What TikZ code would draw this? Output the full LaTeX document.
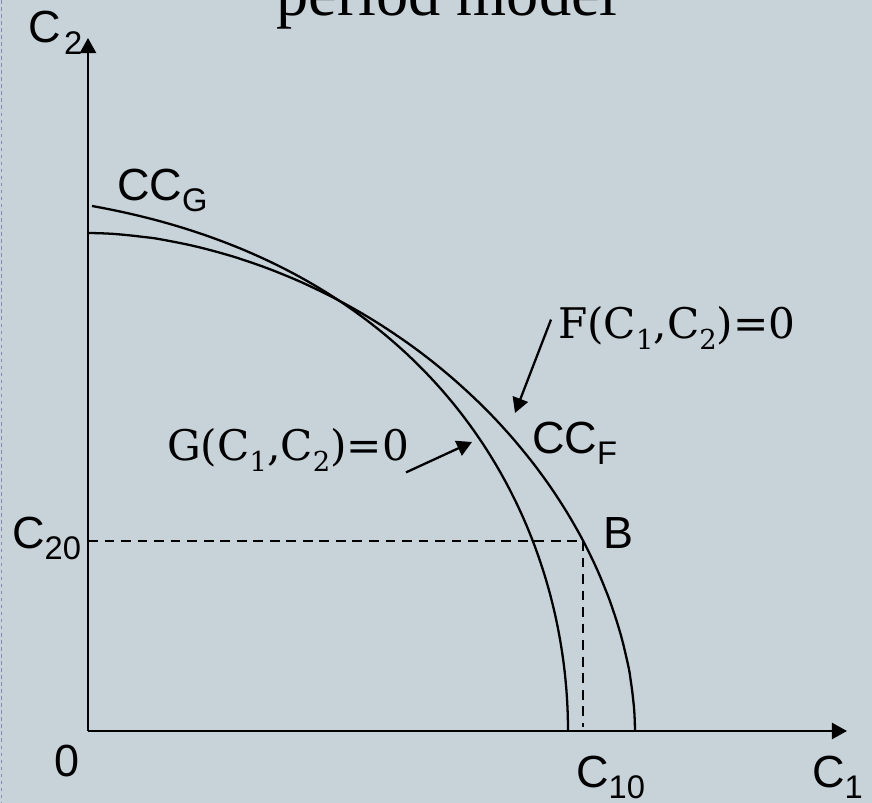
\documentclass[tikz,border=0pt]{standalone}
\usepackage{fontspec}
\setmainfont{Liberation Serif}
\newfontfamily\arialfont{Liberation Sans}
\newfontfamily\eqfont{DejaVu Serif}
\usetikzlibrary{arrows.meta}
\definecolor{slidebg}{RGB}{199,210,217}
\definecolor{edgeblue}{RGB}{130,142,180}
% lowered index for the axis labels and for the equations
\newcommand{\lo}[1]{\raisebox{-3.4pt}{\fontsize{9.3}{10}\selectfont #1}}
\newcommand{\elo}[1]{\raisebox{-3.2pt}{\fontsize{7.8}{9}\selectfont #1}}

\begin{document}
\begin{tikzpicture}[x=0.01cm, y=-0.01cm, line width=0.65pt,
  lbl/.style={inner sep=0pt, anchor=base west, font=\arialfont\fontsize{12.8}{14}\selectfont},
  eqn/.style={inner sep=0pt, anchor=base west, font=\eqfont\fontsize{12}{14}\selectfont},
  pointer/.style={-{Triangle[length=0.15cm, width=0.16cm]}},
  guide/.style={dash pattern=on 2.8pt off 1.9pt, line width=0.55pt}]
\useasboundingbox (0,0) rectangle (872,803);
\fill[slidebg] (0,0) rectangle (872,803);
\draw[edgeblue, dash pattern=on 1pt off 1pt, line width=0.4pt] (1.5,0) -- (1.5,803);

\node[inner sep=0pt, anchor=base, font=\fontsize{18.3}{20}\selectfont] (title) at (447,15) {period model};

\coordinate (O) at (88,731);
\coordinate (ytop) at (88,38);
\coordinate (xend) at (847,731);
\draw[pointer] (O) -- (ytop);
\draw[pointer] (O) -- (xend);

% the two curves
\draw (92,206) .. controls (440,268) and (568,520) .. (568,731);
\draw plot[domain=90:0, samples=80, smooth]
  ({88+547*pow(abs(cos(\x)),1.081)}, {731-498*pow(abs(sin(\x)),1.081)});

\coordinate (B) at (583,541);
\coordinate (c20) at (88,541);
\coordinate (c10) at (583,727);
\draw[guide] (c20) -- (B);
\draw[guide] (B) -- (c10);

\node[lbl] (c2lbl) at (27,43) {C\kern1pt\lo{2}};
\node[lbl] (ccg) at (116,200) {CC\lo{G}};
\node[lbl] (ccf) at (531,453) {CC\lo{F}};
\node[lbl] (c20lbl) at (11,548) {C\lo{20}};
\node[lbl] (blbl) at (602,548) {B};
\node[lbl] (zero) at (53,776) {0};
\node[lbl] (c10lbl) at (575,787) {C\lo{10}};
\node[lbl] (c1lbl) at (811,787) {C\lo{1}};

\node[eqn] (feq) at (557,338) {F(C\elo{1},C\elo{2})=0};
\node[eqn] (geq) at (166,460) {G(C\elo{1},C\elo{2})=0};

\coordinate (fhit) at (515,413);
\coordinate (ghit) at (472,442);
\draw[pointer] ([shift={(-6,-8)}]feq.west) -- (fhit);
\draw[pointer] ([shift={(-4,0)}]geq.south east) -- (ghit);
\end{tikzpicture}
\end{document}
